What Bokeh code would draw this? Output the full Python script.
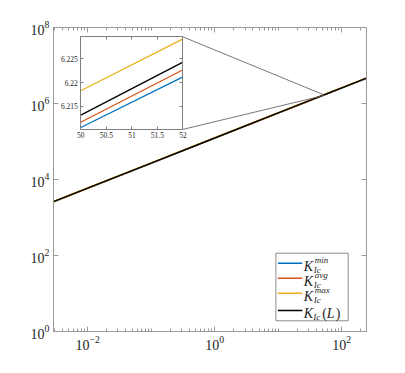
import numpy as np
from bokeh.plotting import figure
from bokeh.models import (LogAxis, LinearAxis, FixedTicker, Range1d, LinearScale,
                          CustomJSTickFormatter, ColumnDataSource)
from bokeh.core.properties import value
from bokeh.embed import file_html
from bokeh.resources import INLINE

# ---------------- data ----------------
L = [0.0029, 0.01, 0.1, 1.0, 10.0, 50.0, 52.0, 100.0, 245.0]
log10_K_min = [3.4142, 3.7692, 4.4292, 5.0892, 5.7492, 6.2106, 6.2212, 6.4092, 6.6652]
log10_K_avg = [3.4155, 3.7705, 4.4305, 5.0905, 5.7505, 6.2117, 6.2227, 6.4105, 6.6665]
log10_K_max = [3.4220, 3.7770, 4.4370, 5.0970, 5.7570, 6.2183, 6.2292, 6.4170, 6.6730]
log10_K_L = [3.4170, 3.7720, 4.4320, 5.0920, 5.7520, 6.2132, 6.2243, 6.4120, 6.6680]

series_values = [log10_K_min, log10_K_avg, log10_K_max, log10_K_L]
series_colors = ["#0072BD", "#D95319", "#EDB120", "#000000"]
legend_sup = ["min", "avg", "max", ""]
legend_sub = ["Ic", "Ic", "Ic", "Ic"]

x_limits = (0.0029, 245.0)
y_limits = (1.0, 1e8)
x_major_ticks = [1e-2, 1e0, 1e2]
y_major_ticks = [1e0, 1e2, 1e4, 1e6, 1e8]
x_minor_ticks = [m * 10.0 ** e for e in range(-3, 3) for m in range(1, 10)
                 if m * 10.0 ** e not in x_major_ticks]

inset_x_limits = (50.0, 52.0)
inset_y_limits = (6.2102, 6.2296)
inset_x_ticks = [50, 50.5, 51, 51.5, 52]
inset_y_ticks = [6.215, 6.22, 6.225]

# ---------------- layout / style ----------------
FONT = "Liberation Serif"
AXIS_GRAY = "#9a9a9a"
TEXT_COL = "#262626"
INSET_BOX = (0.0871, 0.4137, 0.6649, 0.9691)       # frame fractions l, r, b, t
LEGEND_BOX = (0.7105, 0.9416, 0.0352, 0.2576)
LEGEND_ROWS_Y = [0.2247, 0.1754, 0.1262, 0.0690]
LEGEND_SWATCH_X = (0.7169, 0.7948)
LEGEND_TEXT_X = 0.7999

p = figure(width=397, height=365, x_axis_type="log", y_axis_type="log",
           x_range=Range1d(*x_limits), y_range=Range1d(*y_limits),
           output_backend="svg", toolbar_location=None,
           min_border_left=53, min_border_right=31, min_border_top=27, min_border_bottom=34)
p.grid.visible = False
p.outline_line_color = AXIS_GRAY
p.background_fill_color = "white"
p.border_fill_color = "white"

xticker = FixedTicker(ticks=x_major_ticks, minor_ticks=x_minor_ticks)
yticker = FixedTicker(ticks=y_major_ticks, minor_ticks=[])


def style_main(ax, show_labels=True):
    ax.axis_line_color = AXIS_GRAY
    ax.major_tick_line_color = AXIS_GRAY
    ax.minor_tick_line_color = AXIS_GRAY
    ax.major_tick_in = 5
    ax.major_tick_out = 0
    ax.minor_tick_in = 3
    ax.minor_tick_out = 0
    ax.major_label_text_font = FONT
    ax.major_label_text_font_size = "14px"
    ax.major_label_text_color = TEXT_COL
    ax.major_label_standoff = 4
    if not show_labels:
        ax.formatter = CustomJSTickFormatter(code="return ''")
        ax.major_label_standoff = 0


p.xaxis.ticker = xticker
p.yaxis.ticker = yticker
style_main(p.xaxis[0])
style_main(p.yaxis[0])
top_ax = LogAxis(ticker=xticker)
right_ax = LogAxis(ticker=yticker)
style_main(top_ax, False)
style_main(right_ax, False)
p.add_layout(top_ax, "above")
p.add_layout(right_ax, "right")

# main curves
for vals, col in zip(series_values, series_colors):
    src = ColumnDataSource(dict(L=L, K=10 ** np.array(vals)))
    p.line("L", "K", source=src, line_color=col, line_width=1.5)

# extra ranges: inset coordinates and frame fractions
fx0, fx1, fy0, fy1 = INSET_BOX
ix_span = (inset_x_limits[1] - inset_x_limits[0]) / (fx1 - fx0)
ix_start = inset_x_limits[0] - fx0 * ix_span
iy_span = (inset_y_limits[1] - inset_y_limits[0]) / (fy1 - fy0)
iy_start = inset_y_limits[0] - fy0 * iy_span
p.extra_x_ranges = {"ix": Range1d(ix_start, ix_start + ix_span), "fx": Range1d(0, 1)}
p.extra_y_ranges = {"iy": Range1d(iy_start, iy_start + iy_span), "fy": Range1d(0, 1)}
p.extra_x_scales = {"ix": LinearScale(), "fx": LinearScale()}
p.extra_y_scales = {"iy": LinearScale(), "fy": LinearScale()}


def main_to_inset(x, y):
    fx = (np.log10(x) - np.log10(x_limits[0])) / (np.log10(x_limits[1]) - np.log10(x_limits[0]))
    fy = (np.log10(y) - np.log10(y_limits[0])) / (np.log10(y_limits[1]) - np.log10(y_limits[0]))
    return ix_start + fx * ix_span, iy_start + fy * iy_span


# zoom rectangle in main axes
p.quad(left=[inset_x_limits[0]], right=[inset_x_limits[1]],
       bottom=[10 ** inset_y_limits[0]], top=[10 ** inset_y_limits[1]],
       fill_color=None, line_color="#555555", line_width=0.8)

# connection lines
tx, ty = main_to_inset(inset_x_limits[1], 10 ** inset_y_limits[1])
bx, by = main_to_inset(inset_x_limits[1], 10 ** inset_y_limits[0])
p.segment(x0=[inset_x_limits[1], inset_x_limits[1]], y0=[inset_y_limits[1], inset_y_limits[0]],
          x1=[tx, bx], y1=[ty, by], x_range_name="ix", y_range_name="iy",
          line_color="#555555", line_width=0.8)

# inset background
p.quad(left=[inset_x_limits[0]], right=[inset_x_limits[1]],
       bottom=[inset_y_limits[0]], top=[inset_y_limits[1]],
       x_range_name="ix", y_range_name="iy", fill_color="white", line_color=None)

# inset curves (only the zoomed window)
sel = [i for i, v in enumerate(L) if inset_x_limits[0] <= v <= inset_x_limits[1]]
for vals, col in zip(series_values, series_colors):
    p.line([L[i] for i in sel], [vals[i] for i in sel], x_range_name="ix", y_range_name="iy",
           line_color=col, line_width=1.3)

inset_fmt = CustomJSTickFormatter(code="return String(Math.round(tick*1000)/1000)")
blank_fmt = CustomJSTickFormatter(code="return ''")


def inset_axis(loc, bounds, ticks, labels):
    ax = LinearAxis(x_range_name="ix", y_range_name="iy", fixed_location=loc, bounds=bounds,
                    ticker=FixedTicker(ticks=ticks, minor_ticks=[]),
                    formatter=inset_fmt if labels else blank_fmt)
    ax.axis_line_color = "#808080"
    ax.major_tick_line_color = "#808080"
    ax.minor_tick_line_color = None
    ax.major_tick_in = 3
    ax.major_tick_out = 0
    ax.major_label_text_font = FONT
    ax.major_label_text_font_size = "7.5px"
    ax.major_label_text_color = TEXT_COL
    ax.major_label_standoff = 3
    return ax


p.add_layout(inset_axis(inset_y_limits[0], inset_x_limits, inset_x_ticks, True), "below")
p.add_layout(inset_axis(inset_y_limits[1], inset_x_limits, inset_x_ticks, False), "above")
p.add_layout(inset_axis(inset_x_limits[0], inset_y_limits, inset_y_ticks, True), "left")
p.add_layout(inset_axis(inset_x_limits[1], inset_y_limits, inset_y_ticks, False), "right")

# legend (drawn in frame fractions)
lx0, lx1, ly0, ly1 = LEGEND_BOX
p.quad(left=[lx0], right=[lx1], bottom=[ly0], top=[ly1], x_range_name="fx", y_range_name="fy",
       fill_color="white", line_color="#8c8c8c", line_width=1)
p.segment(x0=[LEGEND_SWATCH_X[0]] * 4, x1=[LEGEND_SWATCH_X[1]] * 4,
          y0=LEGEND_ROWS_Y, y1=LEGEND_ROWS_Y, line_color=series_colors, line_width=1.5,
          x_range_name="fx", y_range_name="fy")

common = dict(x_range_name="fx", y_range_name="fy", text_font=value(FONT),
              text_color=TEXT_COL, text_baseline="alphabetic", text_align="left")
n = len(LEGEND_ROWS_Y)
p.text(x=[LEGEND_TEXT_X] * n, y=LEGEND_ROWS_Y, text=["K"] * n,
       x_offset=[0] * n, y_offset=[3.3] * n, text_font_size="14px",
       text_font_style="italic", **common)
p.text(x=[LEGEND_TEXT_X] * n, y=LEGEND_ROWS_Y, text=legend_sub,
       x_offset=[10, 10, 10, 9.5], y_offset=[7.2, 7.2, 7.2, 6.8], text_font_size="9px",
       text_font_style="italic", **common)
p.text(x=[LEGEND_TEXT_X] * 3, y=LEGEND_ROWS_Y[:3], text=legend_sup[:3],
       x_offset=[11] * 3, y_offset=[-3.3] * 3, text_font_size="9px",
       text_font_style="italic", **common)
p.text(x=[LEGEND_TEXT_X] * 2, y=[LEGEND_ROWS_Y[3]] * 2, text=["(", ")"],
       x_offset=[18.5, 32], y_offset=[3.3, 3.3], text_font_size="14px",
       text_font_style="normal", **common)
p.text(x=[LEGEND_TEXT_X], y=[LEGEND_ROWS_Y[3]], text=["L"],
       x_offset=[23], y_offset=[3.3], text_font_size="14px",
       text_font_style="italic", **common)

open("out.html", "w").write(file_html(p, INLINE))
